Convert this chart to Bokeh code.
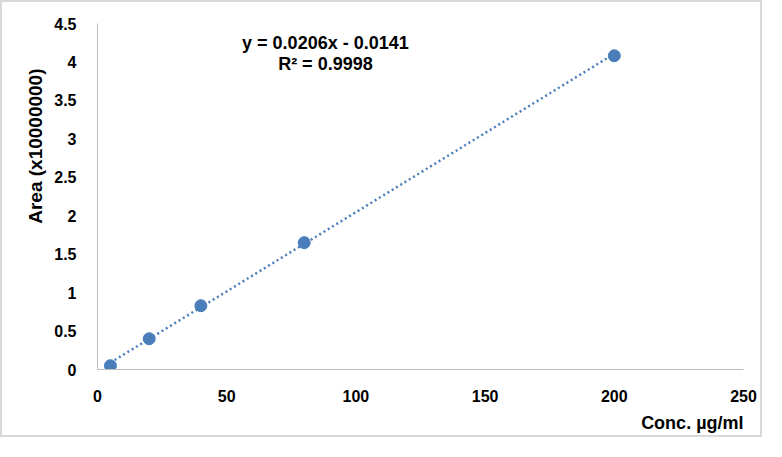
from bokeh.plotting import figure
from bokeh.models import Label, Range1d, FixedTicker, Title
from bokeh.embed import file_html
from bokeh.resources import INLINE

# data
conc = [5, 20, 40, 80, 200]
area = [0.05, 0.40, 0.83, 1.65, 4.08]
slope = 0.0206
intercept = -0.0141
r2 = 0.9998
x_ticks = [0, 50, 100, 150, 200, 250]
y_ticks = [0, 0.5, 1, 1.5, 2, 2.5, 3, 3.5, 4, 4.5]

FONT = "Liberation Sans"
BLUE = "#4a7ebb"

p = figure(width=762, height=437, output_backend="svg", toolbar_location=None,
           x_range=Range1d(0, 250), y_range=Range1d(0, 4.5),
           min_border_left=95, min_border_right=21, min_border_top=21, min_border_bottom=70)
p.styles = {"border": "2px solid #d9d9d9"}
p.outline_line_color = None
p.xgrid.grid_line_color = None
p.ygrid.grid_line_color = None

for ax in (p.xaxis[0], p.yaxis[0]):
    ax.axis_line_color = "#bfbfbf"
    ax.axis_line_width = 1
    ax.major_tick_line_color = None
    ax.minor_tick_line_color = None
    ax.major_label_text_font = FONT
    ax.major_label_text_font_style = "bold"
    ax.major_label_text_font_size = "16px"
    ax.major_label_text_color = "black"

p.xaxis.ticker = FixedTicker(ticks=x_ticks)
p.yaxis.ticker = FixedTicker(ticks=y_ticks)
p.xaxis.major_label_overrides = {t: str(t) for t in x_ticks}
p.yaxis.major_label_overrides = {t: (str(int(t)) if float(t).is_integer() else str(t)) for t in y_ticks}
p.xaxis.major_label_standoff = 14
p.yaxis.major_label_standoff = 15

p.add_layout(Title(text="Area (x10000000)", align="right", offset=45, text_font=FONT,
                   text_font_style="bold", text_font_size="19px", text_color="black",
                   standoff=12), "left")

p.add_layout(Title(text="Conc. \u00b5g/ml", align="right", text_font=FONT,
                   text_font_style="bold", text_font_size="18px", text_color="black",
                   standoff=12), "below")

# trendline
xs = [min(conc), max(conc)]
ys = [slope * x + intercept for x in xs]
p.line(xs, ys, line_color=BLUE, line_width=2.5, line_dash="2 3")

p.scatter(conc, area, size=12, fill_color=BLUE, line_color=BLUE)

eq = "y = %.4fx - %.4f" % (slope, abs(intercept))
p.add_layout(Label(x=88.2, y=4.24, text=eq, text_align="center", text_baseline="middle",
                   text_font=FONT, text_font_style="bold", text_font_size="18px",
                   text_color="black"))
p.add_layout(Label(x=88.2, y=3.97, text="R\u00b2 = %.4f" % r2, text_align="center",
                   text_baseline="middle", text_font=FONT, text_font_style="bold",
                   text_font_size="18px", text_color="black"))

open("out.html", "w").write(file_html(p, INLINE))
